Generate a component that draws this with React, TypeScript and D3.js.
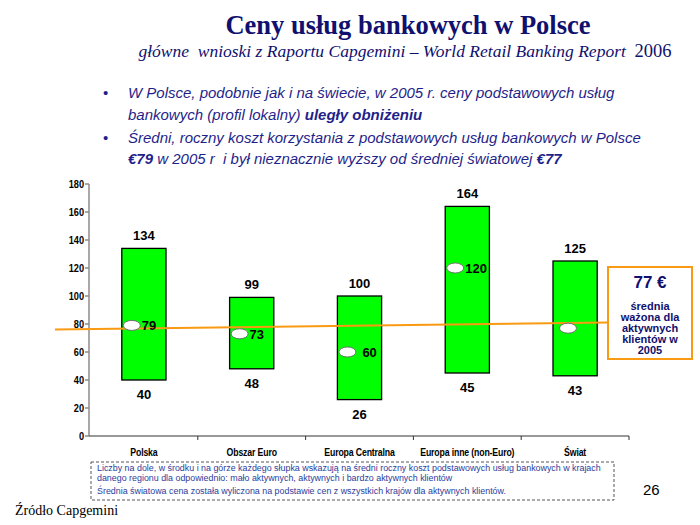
import React from "react";
import * as d3 from "d3";

// dane
const categories = ["Polska", "Obszar Euro", "Europa Centralna", "Europa inne (non-Euro)", "Świat"];
const lowValues = [40, 48, 26, 45, 43];
const midValues = [79, 73, 60, 120, 77];
const highValues = [134, 99, 100, 164, 125];
const midLabels = ["79", "73", "60", "120", ""];
const yTicks = [0, 20, 40, 60, 80, 100, 120, 140, 160, 180];
const avgLineValues = [76, 81]; // linia sredniej swiatowej (lekko nachylona jak w oryginale)

const navy = "#10106e";
const textBlue = "#1f1f8a";
const noteBlue = "#2b3d9c";
const orange = "#f99a12";

function App() {
  const x = d3
    .scaleBand()
    .domain(categories)
    .range([90, 629])
    .paddingInner(0.59)
    .paddingOuter(0.295);
  const y = d3.scaleLinear().domain([0, 180]).range([436, 184]);
  const bw = x.bandwidth();
  const step = x.step();
  const boundaries = d3.range(categories.length + 1).map((i) => 90 + i * step);

  const avgLine = d3
    .line<number>()
    .x((d, i) => (i === 0 ? 55 : 608))
    .y((d) => y(d));

  const sans = "'Liberation Sans', Arial, sans-serif";
  const serif = "'Liberation Serif', 'Times New Roman', serif";
  const pre = { whiteSpace: "pre" as const };

  return (
    <svg
      width={700}
      height={525}
      style={{ position: "absolute", left: 0, top: 0, background: "#fff" }}
    >
      {/* tytul */}
      <text x={408} y={34} textAnchor="middle" fontFamily={serif} fontWeight="bold" fontSize={26.5} fill={navy}>
        Ceny usług bankowych w Polsce
      </text>
      <text x={405} y={57} textAnchor="middle" fontFamily={serif} fontStyle="italic" fontSize={17.5} fill={navy} style={pre}>
        {"główne  wnioski z Raportu Capgemini – World Retail Banking Report  "}
        <tspan fontStyle="normal" fontSize={18.5}>2006</tspan>
      </text>

      {/* punkty */}
      <g fontFamily={sans} fontSize={15} fill={textBlue} fontStyle="italic">
        <text x={103} y={98} fontStyle="normal">•</text>
        <text x={128} y={98}>W Polsce, podobnie jak i na świecie, w 2005 r. ceny podstawowych usług</text>
        <text x={128} y={120}>
          bankowych (profil lokalny) <tspan fontWeight="bold">uległy obniżeniu</tspan>
        </text>
        <text x={103} y={143} fontStyle="normal">•</text>
        <text x={128} y={143}>Średni, roczny koszt korzystania z podstawowych usług bankowych w Polsce</text>
        <text x={128} y={164} style={pre}>
          <tspan fontWeight="bold">€79</tspan>
          {" w 2005 r  i był nieznacznie wyższy od średniej światowej "}
          <tspan fontWeight="bold">€77</tspan>
        </text>
      </g>

      {/* os Y */}
      <line x1={89} x2={89} y1={y(180)} y2={y(0)} stroke="#8c8c8c" strokeWidth={1.5} />
      {yTicks.map((t) => (
        <g key={t}>
          <line x1={85} x2={89} y1={y(t)} y2={y(t)} stroke="#8c8c8c" strokeWidth={1.5} />
          <text
            transform={`translate(84,${y(t) + 4}) scale(0.8,1)`}
            textAnchor="end"
            fontFamily={sans}
            fontWeight="bold"
            fontSize={11.5}
            fill="#000"
          >
            {t}
          </text>
        </g>
      ))}

      {/* os X */}
      <line x1={89} x2={629} y1={y(0)} y2={y(0)} stroke="#333" strokeWidth={1} />
      {boundaries.slice(1).map((b, i) => (
        <line key={i} x1={b} x2={b} y1={y(0)} y2={y(0) + 4} stroke="#333" strokeWidth={1} />
      ))}
      {categories.map((c) => (
        <text
          key={c}
          transform={`translate(${(x(c) ?? 0) + bw / 2},456) scale(0.76,1)`}
          textAnchor="middle"
          fontFamily={sans}
          fontWeight="bold"
          fontSize={11.5}
          letterSpacing={-0.2}
          fill="#000"
        >
          {c}
        </text>
      ))}

      {/* slupki */}
      {categories.map((c, i) => {
        const x0 = x(c) ?? 0;
        const cx = x0 + bw / 2;
        return (
          <g key={c}>
            <rect
              x={x0}
              y={y(highValues[i])}
              width={bw}
              height={y(lowValues[i]) - y(highValues[i])}
              fill="#00ff00"
              stroke="#000"
              strokeWidth={1.3}
            />
            <text x={cx} y={y(highValues[i]) - 8} textAnchor="middle" fontFamily={sans} fontWeight="bold" fontSize={13}>
              {highValues[i]}
            </text>
            <text x={cx} y={y(lowValues[i]) + 19} textAnchor="middle" fontFamily={sans} fontWeight="bold" fontSize={13}>
              {lowValues[i]}
            </text>
          </g>
        );
      })}

      {/* linia sredniej */}
      <path d={avgLine(avgLineValues) ?? ""} fill="none" stroke={orange} strokeWidth={2} />

      {/* srodkowe wartosci */}
      {categories.map((c, i) => {
        const x0 = x(c) ?? 0;
        const ex = x0 + 10 + (i === 4 ? 5 : 0);
        return (
          <g key={c}>
            <ellipse cx={ex} cy={y(midValues[i])} rx={8.5} ry={5} fill="#fff" stroke="#666" strokeWidth={0.9} />
            <text x={ex + 10 + (i === 2 ? 5 : 0)} y={y(midValues[i]) + 5} fontFamily={sans} fontWeight="bold" fontSize={13}>
              {midLabels[i]}
            </text>
          </g>
        );
      })}

      {/* ramka ze srednia */}
      <rect x={608} y={267} width={84} height={92} fill="#fff" stroke={orange} strokeWidth={2} />
      <g fontFamily={sans} fontWeight="bold" fill={navy} textAnchor="middle">
        <text x={650} y={288} fontSize={17}>77 €</text>
        <text x={650} y={310} fontSize={11}>średnia</text>
        <text x={650} y={321} fontSize={11}>ważona dla</text>
        <text x={650} y={332} fontSize={11}>aktywnych</text>
        <text x={650} y={343} fontSize={11}>klientów w</text>
        <text x={650} y={354} fontSize={11}>2005</text>
      </g>

      {/* przypis */}
      <rect x={91} y={462} width={523} height={38} fill="none" stroke="#555" strokeWidth={1} strokeDasharray="3,2" />
      <g fontFamily={sans} fontSize={8.9} fill={noteBlue} style={pre}>
        <text x={97} y={471}>
          Liczby na dole, w środku i na górze każdego słupka wskazują na średni roczny koszt podstawowych usług bankowych w krajach
        </text>
        <text x={97} y={481}>danego regionu dla odpowiednio: mało aktywnych, aktywnych i bardzo aktywnych klientów</text>
        <text x={97} y={494}>
          {"Średnia  światowa cena została wyliczona na podstawie cen z wszystkich krajów dla aktywnych klientów."}
        </text>
      </g>

      <text x={643} y={495} fontFamily={sans} fontSize={15} fill="#000">26</text>
      <text x={15} y={515} fontFamily={serif} fontSize={14} fill="#000">Źródło Capgemini</text>
    </svg>
  );
}

export default App;
